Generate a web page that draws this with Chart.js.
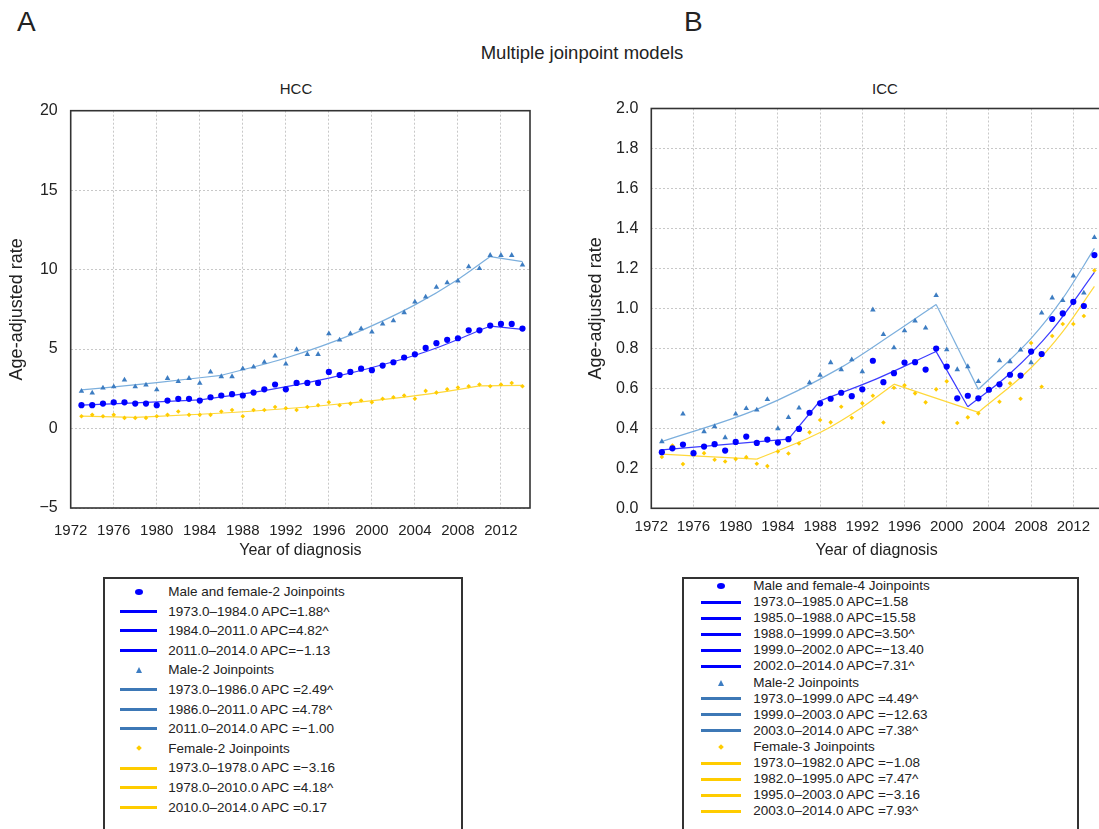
<!DOCTYPE html>
<html>
<head>
<meta charset="utf-8">
<script src="https://cdn.jsdelivr.net/npm/chart.js@4.4.1/dist/chart.umd.min.js"></script>
<style>
  body { margin: 0; width: 1099px; height: 829px; overflow: hidden; position: relative; background: #fff;
         font-family: "Liberation Sans", Arial, Helvetica, sans-serif; color: #222; }
  .txt { position: absolute; line-height: 1; white-space: nowrap; }
  .panel { position: absolute; top: 70px; width: 545px; height: 500px; }
  .legend { position: absolute; top: 577px; height: 300px; border: 2px solid #333; box-sizing: border-box; }
  .row { position: absolute; left: 0; right: 0; font-size: 13.5px; color: #222; white-space: nowrap; }
</style>
</head>
<body>
<div class="txt" style="left:17px; top:8px; font-size:28px;">A</div>
<div class="txt" style="left:684px; top:8px; font-size:28px;">B</div>
<div class="txt" style="left:382px; width:400px; text-align:center; top:44px; font-size:18.5px;">Multiple joinpoint models</div>
<div class="txt" style="left:196px; width:200px; text-align:center; top:81px; font-size:15px;">HCC</div>
<div class="txt" style="left:785px; width:200px; text-align:center; top:81px; font-size:15px;">ICC</div>

<div class="panel" style="left:0px;"><canvas id="hcc" width="545" height="500"></canvas></div>
<div class="panel" style="left:575px;"><canvas id="icc" width="545" height="500"></canvas></div>

<div class="legend" id="hccLegend" style="left:103px; width:360px;"></div>
<div class="legend" id="iccLegend" style="left:682px; width:397px;"></div>

<script>
// Years of diagnosis (observed points)
const years = [1973, 1974, 1975, 1976, 1977, 1978, 1979, 1980, 1981, 1982,
  1983, 1984, 1985, 1986, 1987, 1988, 1989, 1990, 1991, 1992,
  1993, 1994, 1995, 1996, 1997, 1998, 1999, 2000, 2001, 2002,
  2003, 2004, 2005, 2006, 2007, 2008, 2009, 2010, 2011, 2012,
  2013, 2014];

// HCC observed age-adjusted rates
const hccBoth = [1.47, 1.47, 1.57, 1.65, 1.65, 1.57, 1.57, 1.47, 1.76, 1.87,
  1.87, 1.76, 1.97, 2.08, 2.16, 2.08, 2.26, 2.47, 2.77, 2.47,
  2.87, 2.87, 2.87, 3.56, 3.37, 3.56, 3.77, 3.67, 3.96, 4.17,
  4.47, 4.67, 5.07, 5.37, 5.58, 5.68, 6.18, 6.18, 6.48, 6.58,
  6.58, 6.29];
const hccMale = [2.35, 2.24, 2.56, 2.64, 3.06, 2.64, 2.75, 2.45, 3.16, 2.96,
  3.16, 2.85, 3.56, 3.27, 3.27, 3.77, 3.88, 4.17, 4.57, 4.07,
  4.97, 4.67, 4.67, 5.97, 5.58, 5.97, 6.29, 6.08, 6.58, 6.79,
  7.30, 7.97, 8.28, 8.89, 9.18, 9.29, 10.19, 10.08, 10.90, 10.90,
  10.90, 10.30];
const hccFemale = [0.77, 0.86, 0.77, 0.86, 0.67, 0.67, 0.67, 0.77, 0.86, 1.07,
  0.86, 0.86, 0.86, 1.07, 1.17, 0.77, 1.17, 1.17, 1.36, 1.28,
  1.17, 1.36, 1.47, 1.65, 1.47, 1.57, 1.76, 1.65, 1.87, 1.97,
  2.08, 1.87, 2.37, 2.26, 2.47, 2.58, 2.66, 2.77, 2.66, 2.77,
  2.87, 2.66];

// HCC joinpoint fitted segments, [year, rate]
const hccBothFit = [
  [[1973, 1.47], [1978, 1.61], [1984, 1.80]],
  [[1984, 1.80], [1990, 2.39], [1996, 3.17], [2002, 4.20], [2006, 5.07], [2011, 6.45]],
  [[2011, 6.45], [2014, 6.24]]
];
const hccMaleFit = [
  [[1973, 2.43], [1980, 2.89], [1986, 3.35]],
  [[1986, 3.35], [1992, 4.44], [1998, 5.88], [2004, 7.78], [2008, 9.38], [2011, 10.82]],
  [[2011, 10.82], [2014, 10.50]]
];
const hccFemaleFit = [
  [[1973, 0.78], [1978, 0.70]],
  [[1978, 0.70], [1984, 0.90], [1990, 1.15], [1996, 1.48], [2002, 1.90], [2006, 2.24], [2010, 2.68]],
  [[2010, 2.68], [2014, 2.72]]
];

// ICC observed age-adjusted rates
const iccBoth = [0.281, 0.300, 0.319, 0.276, 0.309, 0.321, 0.289, 0.332, 0.359, 0.327,
  0.344, 0.329, 0.346, 0.397, 0.478, 0.525, 0.548, 0.578, 0.561, 0.595,
  0.738, 0.631, 0.676, 0.729, 0.731, 0.694, 0.799, 0.709, 0.550, 0.563,
  0.550, 0.593, 0.620, 0.668, 0.664, 0.784, 0.772, 0.947, 0.975, 1.033,
  1.012, 1.267];
const iccMale = [0.334, 0.300, 0.472, 0.278, 0.384, 0.409, 0.354, 0.472, 0.500, 0.492,
  0.545, 0.399, 0.455, 0.502, 0.628, 0.666, 0.729, 0.694, 0.743, 0.684,
  0.993, 0.870, 0.804, 0.889, 0.937, 0.902, 1.065, 0.794, 0.694, 0.709,
  0.635, 0.590, 0.738, 0.734, 0.792, 0.729, 0.977, 1.053, 1.040, 1.163,
  1.077, 1.355];
const iccFemale = [0.257, 0.314, 0.221, 0.277, 0.276, 0.243, 0.234, 0.246, 0.256, 0.223,
  0.211, 0.284, 0.274, 0.324, 0.380, 0.442, 0.430, 0.508, 0.453, 0.525,
  0.563, 0.429, 0.603, 0.615, 0.575, 0.530, 0.595, 0.635, 0.427, 0.455,
  0.475, 0.600, 0.533, 0.625, 0.548, 0.827, 0.608, 0.862, 0.922, 0.922,
  0.962, 1.190];

// ICC joinpoint fitted segments
const iccBothFit = [
  [[1973, 0.292], [1985, 0.346]],
  [[1985, 0.346], [1988, 0.538]],
  [[1988, 0.538], [1993, 0.640], [1999, 0.784]],
  [[1999, 0.784], [2002, 0.508]],
  [[2002, 0.508], [2006, 0.674], [2010, 0.893], [2014, 1.180]]
];
const iccMaleFit = [
  [[1973, 0.334], [1982, 0.495], [1990, 0.705], [1995, 0.877], [1999, 1.020]],
  [[1999, 1.020], [2003, 0.595]],
  [[2003, 0.595], [2008, 0.850], [2011, 1.050], [2014, 1.300]]
];
const iccFemaleFit = [
  [[1973, 0.271], [1982, 0.246]],
  [[1982, 0.246], [1988, 0.379], [1992, 0.506], [1995, 0.621]],
  [[1995, 0.621], [2003, 0.480]],
  [[2003, 0.480], [2008, 0.703], [2011, 0.884], [2014, 1.110]]
];

// Legend texts
const hccGroups = ["Male and female-2 Joinpoints", "Male-2 Joinpoints", "Female-2 Joinpoints"];
const hccBothLabels = ["1973.0–1984.0 APC=1.88^", "1984.0–2011.0 APC=4.82^", "2011.0–2014.0 APC=−1.13"];
const hccMaleLabels = ["1973.0–1986.0 APC =2.49^", "1986.0–2011.0 APC =4.78^", "2011.0–2014.0 APC =−1.00"];
const hccFemaleLabels = ["1973.0–1978.0 APC =−3.16", "1978.0–2010.0 APC =4.18^", "2010.0–2014.0 APC =0.17"];

const iccGroups = ["Male and female-4 Joinpoints", "Male-2 Joinpoints", "Female-3 Joinpoints"];
const iccBothLabels = ["1973.0–1985.0 APC=1.58", "1985.0–1988.0 APC=15.58", "1988.0–1999.0 APC=3.50^",
  "1999.0–2002.0 APC=−13.40", "2002.0–2014.0 APC=7.31^"];
const iccMaleLabels = ["1973.0–1999.0 APC =4.49^", "1999.0–2003.0 APC =−12.63", "2003.0–2014.0 APC =7.38^"];
const iccFemaleLabels = ["1973.0–1982.0 APC =−1.08", "1982.0–1995.0 APC =7.47^",
  "1995.0–2003.0 APC =−3.16", "2003.0–2014.0 APC =7.93^"];

// Series looks
const looks = [
  { marker: "circle", radius: 3.1, color: "#0000ff", line: "#3c3cff", legendLine: "#0000ff" },
  { marker: "triangle", radius: 3.2, color: "#3d7dc2", line: "#7cafdd", legendLine: "#3d78b6" },
  { marker: "rectRot", radius: 2.3, color: "#ffcc00", line: "#ffd83a", legendLine: "#ffcc00" }
];

function buildDatasets(groups, obs, fits, labels) {
  const out = [];
  groups.forEach((name, g) => {
    const look = looks[g];
    out.push({
      label: name,
      data: years.map((x, i) => ({ x: x, y: obs[g][i] })),
      showLine: false,
      pointStyle: look.marker,
      pointRadius: look.radius,
      pointBackgroundColor: look.color,
      pointBorderColor: look.color,
      pointBorderWidth: 0,
      legendKind: "marker",
      legendColor: look.color
    });
    fits[g].forEach((seg, s) => {
      out.push({
        label: labels[g][s],
        data: seg,
        borderColor: look.line,
        borderWidth: 1.2,
        pointRadius: 0,
        cubicInterpolationMode: "monotone",
        legendKind: "line",
        legendColor: look.legendLine
      });
    });
  });
  return out;
}

// Frame round the plot area
const plotBorder = {
  id: "plotBorder",
  beforeDatasetsDraw(chart) {
    const a = chart.chartArea;
    const ctx = chart.ctx;
    ctx.save();
    ctx.strokeStyle = "#333";
    ctx.lineWidth = 1.6;
    ctx.strokeRect(a.left, a.top, a.right - a.left, a.bottom - a.top);
    ctx.restore();
  }
};

function makeChart(id, datasets, cfg) {
  return new Chart(document.getElementById(id), {
    type: "line",
    data: { datasets: datasets },
    plugins: [plotBorder],
    options: {
      responsive: false,
      animation: false,
      layout: { padding: cfg.padding },
      plugins: { legend: { display: false }, tooltip: { enabled: false } },
      scales: {
        x: {
          type: "linear",
          min: 1972,
          max: 2014.7,
          afterFit: (scale) => { scale.height = cfg.xHeight; },
          ticks: {
            stepSize: 4,
            includeBounds: false,
            padding: cfg.xPad,
            color: "#222",
            font: { size: 15, family: "'Liberation Sans', Arial, sans-serif" },
            maxRotation: 0,
            autoSkip: false,
            callback: (v) => String(v)
          },
          grid: { color: "#c8c8c8", drawTicks: false },
          border: { display: false, dash: [2, 2] },
          title: {
            display: true,
            text: "Year of diagnosis",
            color: "#222",
            padding: 0,
            font: { size: 16, family: "'Liberation Sans', Arial, sans-serif" }
          }
        },
        y: {
          min: cfg.yMin,
          max: cfg.yMax,
          afterFit: (scale) => { scale.width = cfg.yWidth; },
          ticks: {
            stepSize: cfg.yStep,
            padding: 13,
            color: "#222",
            font: { size: 16, family: "'Liberation Sans', Arial, sans-serif" },
            callback: cfg.yFormat
          },
          grid: { color: "#c8c8c8", drawTicks: false },
          border: { display: false, dash: [2, 2] },
          title: {
            display: true,
            text: "Age-adjusted rate",
            color: "#222",
            padding: 0,
            font: { size: 18, family: "'Liberation Sans', Arial, sans-serif" }
          }
        }
      }
    }
  });
}

const hccChart = makeChart("hcc",
  buildDatasets(hccGroups, [hccBoth, hccMale, hccFemale], [hccBothFit, hccMaleFit, hccFemaleFit],
    [hccBothLabels, hccMaleLabels, hccFemaleLabels]),
  {
    padding: { left: 6.5, top: 40.7, right: 15, bottom: 9.4 },
    xHeight: 52.6, yWidth: 64.2, xPad: 14,
    yMin: -5, yMax: 20, yStep: 5,
    yFormat: (v) => (v < 0 ? "\u2212" + Math.abs(v) : String(v))
  });

const iccChart = makeChart("icc",
  buildDatasets(iccGroups, [iccBoth, iccMale, iccFemale], [iccBothFit, iccMaleFit, iccFemaleFit],
    [iccBothLabels, iccMaleLabels, iccFemaleLabels]),
  {
    padding: { left: 10.5, top: 38.5, right: 18.2, bottom: 9.7 },
    xHeight: 52, yWidth: 65.8, xPad: 10,
    yMin: 0, yMax: 2, yStep: 0.2,
    yFormat: (v) => v.toFixed(1)
  });

// HTML legend built from the chart's datasets, one entry per row
function buildLegend(chart, boxId, pos) {
  const box = document.getElementById(boxId);
  chart.data.datasets.forEach((ds, i) => {
    const row = document.createElement("div");
    row.className = "row";
    row.style.top = (pos.firstY + i * pos.rowH - pos.rowH / 2) + "px";
    row.style.height = pos.rowH + "px";
    row.style.lineHeight = pos.rowH + "px";

    const key = document.createElement("div");
    key.style.position = "absolute";
    if (ds.legendKind === "line") {
      key.style.left = pos.lineX0 + "px";
      key.style.width = (pos.lineX1 - pos.lineX0) + "px";
      key.style.height = "3px";
      key.style.top = (pos.rowH / 2 - 1.5) + "px";
      key.style.background = ds.legendColor;
    } else if (ds.pointStyle === "circle") {
      key.style.left = (pos.markX - 4) + "px";
      key.style.width = "8px";
      key.style.height = "6px";
      key.style.top = (pos.rowH / 2 - 3) + "px";
      key.style.borderRadius = "50%";
      key.style.background = ds.legendColor;
    } else if (ds.pointStyle === "triangle") {
      key.style.left = (pos.markX - 3.5) + "px";
      key.style.top = (pos.rowH / 2 - 3) + "px";
      key.style.width = "0";
      key.style.height = "0";
      key.style.borderLeft = "3.5px solid transparent";
      key.style.borderRight = "3.5px solid transparent";
      key.style.borderBottom = "6px solid " + ds.legendColor;
    } else {
      key.style.left = (pos.markX - 2) + "px";
      key.style.top = (pos.rowH / 2 - 2) + "px";
      key.style.width = "4px";
      key.style.height = "4px";
      key.style.transform = "rotate(45deg)";
      key.style.background = ds.legendColor;
    }
    row.appendChild(key);

    const label = document.createElement("span");
    label.style.position = "absolute";
    label.style.left = pos.textX + "px";
    label.textContent = ds.label;
    row.appendChild(label);
    box.appendChild(row);
  });
}

buildLegend(hccChart, "hccLegend", { firstY: 12.7, rowH: 19.6, lineX0: 15, lineX1: 52, markX: 34, textX: 63.3 });
buildLegend(iccChart, "iccLegend", { firstY: 7, rowH: 16.1, lineX0: 17, lineX1: 57, markX: 37, textX: 69.3 });
</script>
</body>
</html>
